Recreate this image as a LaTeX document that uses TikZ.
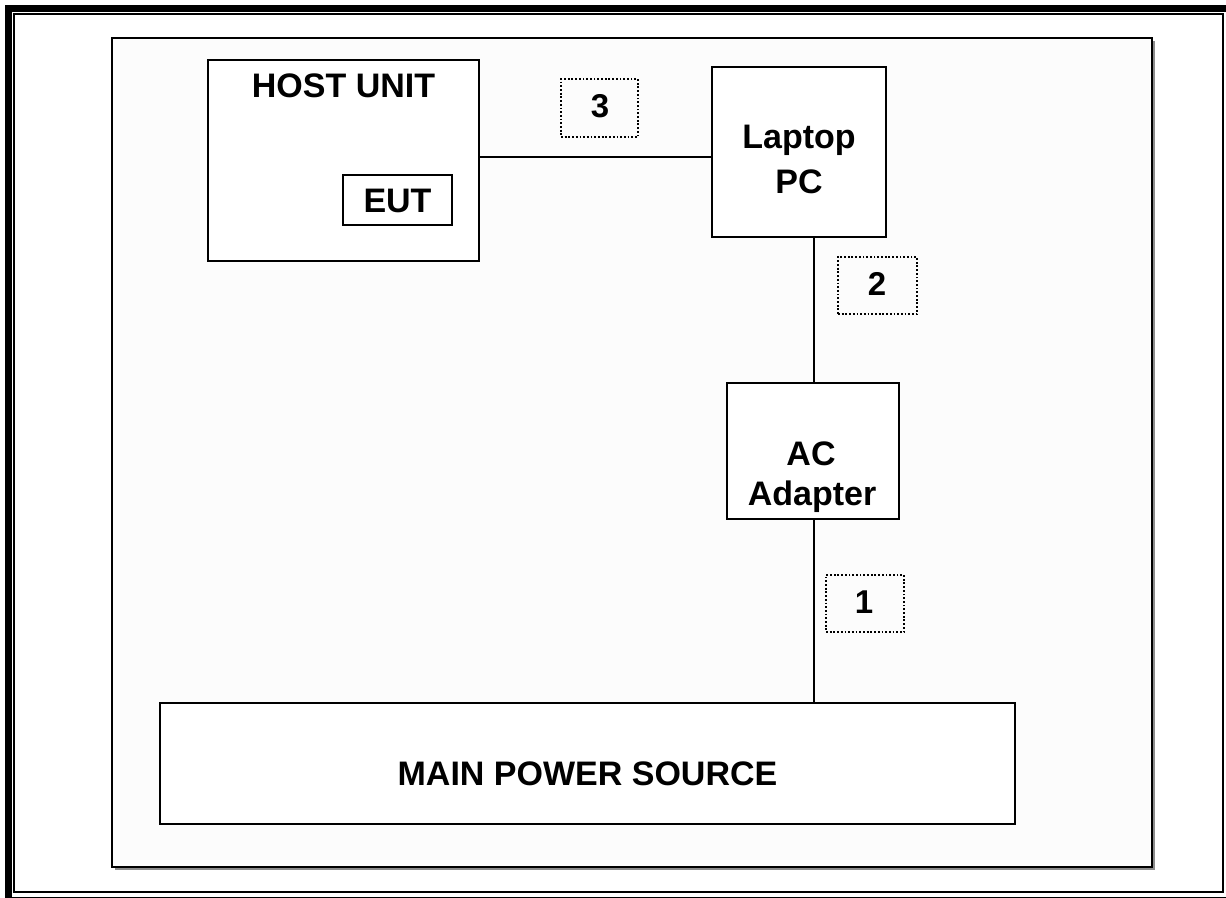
\documentclass[tikz,border=0pt]{standalone}
\usepackage{fontspec}
\setmainfont{Liberation Sans}
\begin{document}
\begin{tikzpicture}[x=1pt,y=-1pt,
  box/.style={draw=black,line width=2pt,fill=white,inner sep=0pt,outer sep=0pt,rectangle},
  txt/.style={font=\fontsize{34}{43}\selectfont\bfseries,anchor=base,inner sep=0pt,outer sep=0pt},
  numbox/.style={draw=black,line width=1.8pt,dash pattern=on 1.8pt off 1.9pt,inner sep=0pt,outer sep=0pt,rectangle},
  numtxt/.style={font=\fontsize{33}{38}\selectfont\bfseries,anchor=base,inner sep=0pt,outer sep=0pt},
  wire/.style={line width=2pt}]
\useasboundingbox (0,0) rectangle (1226,897);
\begin{scope}
  \clip (0,0) rectangle (1226,897);
  \draw[line width=7pt] (8.5,8.5) rectangle (1232,900);
\end{scope}
\draw[line width=2pt] (14,14) rectangle (1223,892);
% panel with shadow
\fill[black!45] (115,41) rectangle (1155,870);
\draw[line width=2pt,fill=black!1] (112,38) rectangle (1152,867);

% boxes
\node[box,minimum width=271pt,minimum height=201pt] (host) at (343.5,160.5) {};
\node[txt] (hosttxt) at (343.5,97) {HOST UNIT};
\node[box,minimum width=109pt,minimum height=50pt] (eut) at (397.5,200) {};
\node[txt] (euttxt) at (397.5,212) {EUT};

\node[box,minimum width=174pt,minimum height=170pt] (laptop) at (799,152) {};
\node[txt] (laptxt1) at (799,148) {Laptop};
\node[txt] (laptxt2) at (799,193) {PC};

\node[box,minimum width=172pt,minimum height=136pt] (ac) at (813,451) {};
\node[txt] (actxt1) at (811,465) {AC};
\node[txt] (actxt2) at (812,505) {Adapter};

\node[box,minimum width=855pt,minimum height=121pt] (main) at (587.5,763.5) {};
\node[txt] (maintxt) at (587.5,785) {MAIN POWER SOURCE};

% number labels
\node[numbox,minimum width=77pt,minimum height=58pt] (n3) at (599.5,108) {};
\node[numtxt] (n3t) at (600,117) {3};
\node[numbox,minimum width=79pt,minimum height=57pt] (n2) at (877.5,285.5) {};
\node[numtxt] (n2t) at (877,295) {2};
\node[numbox,minimum width=78pt,minimum height=57pt] (n1) at (865,603.5) {};
\node[numtxt] (n1t) at (864,613) {1};

% connectors
\coordinate (hy) at (0,157);
\coordinate (vx) at (814,0);
\draw[wire] (host.east |- hy) -- (laptop.west |- hy);
\draw[wire] (laptop.south -| vx) -- (ac.north -| vx);
\draw[wire] (ac.south -| vx) -- (main.north -| vx);
\end{tikzpicture}
\end{document}
